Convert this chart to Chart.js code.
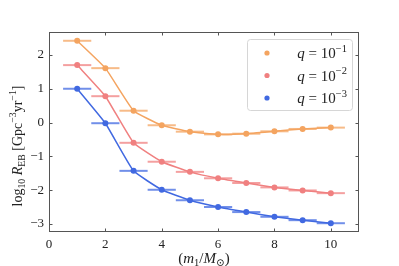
<!DOCTYPE html>
<html><head><meta charset="utf-8">
<script src="https://cdn.jsdelivr.net/npm/chart.js@4"></script>
<style>html,body{margin:0;padding:0;background:#fff}canvas{display:block}</style>
</head><body><canvas id="c" width="399" height="266"></canvas>
<script>
const xVals = [1,2,3,4,5,6,7,8,9,10];
const xErr = 0.5;
const q1 = [2.42,1.61,0.35,-0.08,-0.27,-0.35,-0.33,-0.26,-0.19,-0.15];
const q2 = [1.70,0.78,-0.60,-1.16,-1.46,-1.65,-1.79,-1.92,-2.01,-2.09];
const q3 = [1.00,-0.02,-1.43,-1.99,-2.30,-2.50,-2.65,-2.79,-2.89,-2.98];
const seriesExp = ['−1','−2','−3'];
const colors = ['#f4a460','#f08080','#4169e1'];
const xTicks = [0,2,4,6,8,10];
const xTickLabels = ['0','2','4','6','8','10'];
const yTicks = [-3,-2,-1,0,1,2];
const yTickLabels = ['−3','−2','−1','0','1','2'];

const FONT = "'Liberation Serif', 'DejaVu Serif', serif";

function mk(vals, i){
  return {
    data: xVals.map((x,k)=>({x:x,y:vals[k]})),
    showLine:true,
    borderColor:colors[i],
    backgroundColor:colors[i],
    borderWidth:1.5,
    pointRadius:3,
    pointBorderWidth:0,
    pointHoverRadius:3,
    tension:0.12,
    errColor:colors[i]
  };
}

function richWidth(ctx, parts, size){
  let w=0;
  for(const p of parts){
    const s = p.pos ? size*0.7 : size;
    ctx.font = (p.i?'italic ':'') + s + 'px ' + FONT;
    w += ctx.measureText(p.t).width;
  }
  return w;
}
function drawRich(ctx, parts, x, y, size, align){
  const w = richWidth(ctx, parts, size);
  let cx = align==='center' ? x - w/2 : (align==='right' ? x - w : x);
  ctx.textAlign='left';
  ctx.textBaseline='alphabetic';
  for(const p of parts){
    const s = p.pos ? size*0.7 : size;
    ctx.font = (p.i?'italic ':'') + s + 'px ' + FONT;
    let dy = 0;
    if(p.pos==='sub') dy = size*0.22;
    if(p.pos==='sup') dy = -size*0.42;
    ctx.fillText(p.t, cx, y+dy);
    cx += ctx.measureText(p.t).width;
  }
}

const decor = {
  id:'decor',
  beforeDatasetsDraw(chart){
    const ctx=chart.ctx, xs=chart.scales.x, ys=chart.scales.y;
    ctx.save();
    ctx.lineWidth=2;
    ctx.globalAlpha=0.75;
    chart.data.datasets.forEach(ds=>{
      ctx.strokeStyle=ds.errColor;
      ds.data.forEach(p=>{
        const y=ys.getPixelForValue(p.y);
        ctx.beginPath();
        ctx.moveTo(xs.getPixelForValue(p.x-xErr),y);
        ctx.lineTo(xs.getPixelForValue(p.x+xErr),y);
        ctx.stroke();
      });
    });
    ctx.restore();
  },
  afterDraw(chart){
    const ctx=chart.ctx, a=chart.chartArea, xs=chart.scales.x, ys=chart.scales.y;
    ctx.save();
    ctx.strokeStyle='#555';
    ctx.lineWidth=1;
    ctx.strokeRect(Math.round(a.left)+0.5, Math.round(a.top)+0.5, Math.round(a.right-a.left)-1, Math.round(a.bottom-a.top)-1);
    const L=3.5;
    ctx.beginPath();
    xTicks.forEach(v=>{
      const px=Math.round(xs.getPixelForValue(v))+0.5;
      ctx.moveTo(px,a.bottom); ctx.lineTo(px,a.bottom-L);
      ctx.moveTo(px,a.top); ctx.lineTo(px,a.top+L);
    });
    yTicks.forEach(v=>{
      const py=Math.round(ys.getPixelForValue(v))+0.5;
      ctx.moveTo(a.left,py); ctx.lineTo(a.left+L,py);
      ctx.moveTo(a.right,py); ctx.lineTo(a.right-L,py);
    });
    ctx.stroke();

    // legend
    const lx=247, ly=39, lw=105, lh=71;
    ctx.globalAlpha=0.8;
    ctx.fillStyle='#fff';
    ctx.beginPath();
    ctx.roundRect(lx+0.5,ly+0.5,lw,lh,3);
    ctx.fill();
    ctx.globalAlpha=1;
    ctx.strokeStyle='#d6d6d6';
    ctx.stroke();
    const rows=[53,75.5,98];
    rows.forEach((ry,i)=>{
      ctx.fillStyle=colors[i];
      ctx.beginPath(); ctx.arc(267,ry,2.6,0,Math.PI*2); ctx.fill();
      ctx.fillStyle='#222';
      drawRich(ctx,[{t:'q',i:true},{t:' = 10'},{t:seriesExp[i],pos:'sup'}],347,ry+5,15,'right');
    });

    // axis titles
    ctx.fillStyle='#222';
    drawRich(ctx,[{t:'('},{t:'m',i:true},{t:'1',pos:'sub'},{t:'/'},{t:'M',i:true},{t:'⊙',pos:'sub'},{t:')'}],204,263,15,'center');
    ctx.save();
    ctx.translate(22,146);
    ctx.rotate(-Math.PI/2);
    drawRich(ctx,[{t:'log'},{t:'10',pos:'sub'},{t:' '},{t:'R',i:true},{t:'EB',pos:'sub'},{t:' [Gpc'},{t:'−3',pos:'sup'},{t:'yr'},{t:'−1',pos:'sup'},{t:']'}],0,0,14,'center');
    ctx.restore();
    ctx.restore();
  }
};

new Chart(document.getElementById('c'),{
  type:'scatter',
  data:{datasets:[mk(q1,0),mk(q2,1),mk(q3,2)]},
  options:{
    responsive:false,
    devicePixelRatio:1,
    animation:false,
    layout:{padding:{top:32,right:40,left:0,bottom:0}},
    plugins:{legend:{display:false},tooltip:{enabled:false}},
    scales:{
      x:{
        type:'linear',min:0,max:11,
        grid:{display:false,drawTicks:false},
        border:{display:false},
        afterBuildTicks(s){s.ticks=xTicks.map(v=>({value:v}));},
        afterFit(s){s.height=34;},
        ticks:{padding:5,color:'#222',font:{family:FONT,size:13},maxRotation:0,
          callback:(v)=>xTickLabels[xTicks.indexOf(v)]}
      },
      y:{
        type:'linear',min:-3.24,max:2.68,
        grid:{display:false,drawTicks:false},
        border:{display:false},
        afterBuildTicks(s){s.ticks=yTicks.map(v=>({value:v}));},
        afterFit(s){s.width=49;},
        ticks:{padding:5,color:'#222',font:{family:FONT,size:13},
          callback:(v)=>yTickLabels[yTicks.indexOf(v)]}
      }
    }
  },
  plugins:[decor]
});
</script></body></html>
